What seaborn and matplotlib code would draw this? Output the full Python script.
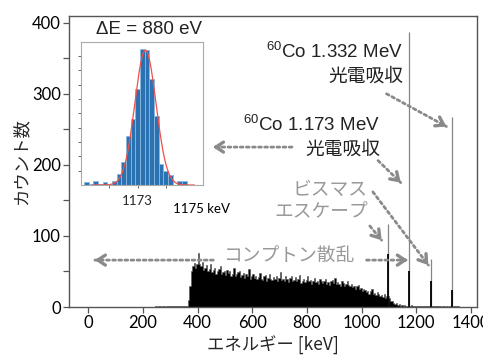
import numpy as np
import pandas as pd
import matplotlib
matplotlib.use('Agg')
import matplotlib.pyplot as plt
import seaborn as sns

sns.set_theme(style='ticks')
plt.rcParams['font.family'] = ['Noto Sans CJK JP', 'DejaVu Sans']

# main spectrum: counts per 5 keV bin, starting at 240 keV
spec_start = 240
spec_step = 5
spec_counts = [
    0, 1, 0, 1, 1, 0, 1, 1, 0, 1, 1, 2, 1, 1, 2, 1, 1, 2, 1, 2, 1, 2, 2, 1,   # 240-355
    2, 10, 30, 50, 58, 62, 55, 60, 76, 61,     # 360-405
    57, 63, 52, 55, 59, 50, 54, 61, 49, 52,    # 410-455
    55, 47, 50, 53, 58, 46, 49, 51, 45, 52,    # 460-505
    48, 50, 44, 47, 55, 43, 46, 49, 51, 42,    # 510-555
    45, 48, 41, 46, 44, 53, 40, 43, 47, 41,    # 560-605
    44, 39, 42, 48, 40, 38, 43, 45, 37, 41,    # 610-655
    46, 40, 38, 42, 39, 44, 36, 41, 49, 38,    # 660-705
    40, 37, 43, 39, 35, 41, 44, 36, 38, 42,    # 710-755
    36, 39, 45, 34, 37, 40, 35, 38, 43, 36,    # 760-805
    38, 33, 36, 41, 35, 37, 32, 39, 36, 34,    # 810-855
    37, 40, 33, 35, 31, 36, 38, 34, 41, 32,    # 860-905
    35, 33, 30, 36, 34, 29, 33, 37, 31, 30,    # 910-955
    32, 28, 30, 26, 29, 31, 25, 27, 23, 26,    # 960-1005
    24, 21, 23, 19, 22, 25, 18, 20, 17, 21,    # 1010-1055
    18, 15, 17, 14, 19, 13, 15, 16, 12, 9,     # 1060-1105
    9, 6, 4, 5, 3, 4, 2, 3, 2, 3,              # 1110-1155
    2, 1, 2, 1, 3, 2, 1, 2, 1, 2,              # 1160-1205
    1, 2, 1, 1, 2, 1, 2, 1, 3, 2,              # 1210-1255
    2, 1, 1, 2, 1, 1, 0, 1, 1, 0,              # 1260-1305
    1, 0, 1, 1, 0, 2, 1, 2, 1, 0,              # 1310-1355
]

# sharp lines (Bi escape 1096/1255, photo peaks 1173/1332)
peak_kev = [1096, 1173, 1255, 1332]
peak_top = [117, 387, 67, 267]
peak_core = [75, 50, 36, 24]

# inset: 1173 keV peak, 0.165 keV bins
inset_start = 1171.10
inset_step = 0.165
inset_counts = [2, 1, 3, 1, 2, 0, 3, 8, 16, 34, 46, 67, 95, 94, 74, 48, 15, 10, 7, 0, 3, 3]
fit_center = 1173.27
fit_fwhm = 0.88
fit_amp = 94

energy = spec_start + spec_step * (np.arange(len(spec_counts)) + 0.5)
edges = [float(e) for e in spec_start + spec_step * np.arange(len(spec_counts) + 1)]
df = pd.DataFrame({'energy': energy, 'count': np.array(spec_counts, float)})

fig = plt.figure(figsize=(4.83, 3.56), dpi=100)
ax = fig.add_axes([0.1429, 0.1376, 0.8440, 0.8174])

sns.histplot(data=df, x='energy', weights='count', bins=edges, element='step', fill=True,
             color='black', alpha=1, edgecolor='#555555', linewidth=0.4, ax=ax)
ax.vlines(peak_kev, 0, peak_top, color='#858585', lw=0.9)
ax.vlines(peak_kev, 0, peak_core, color='black', lw=1.3)

ax.set_xlim(-70.6, 1420.8)
ax.set_ylim(0, 409.4)
ax.set_xticks(np.arange(0, 1401, 200))
ax.set_yticks(np.arange(0, 401, 100))
ax.set_yticks(np.arange(50, 400, 100), minor=True)
ax.tick_params(axis='both', which='both', direction='out', color='#555555', width=0.9)
ax.tick_params(axis='both', which='major', length=4, labelsize=12, pad=2, labelcolor='black')
ax.tick_params(axis='y', which='minor', length=4)
for lab in ax.get_xticklabels() + ax.get_yticklabels():
    lab.set_fontfamily('Lato')
for sp in ax.spines.values():
    sp.set_color('#555555')
    sp.set_linewidth(1.0)
ax.set_xlabel('エネルギー [keV]', fontsize=12.5, labelpad=3)
ax.set_ylabel('カウント数', fontsize=12.5, labelpad=1)

dark = '#222222'
gray = '#999999'
agray = '#8a8a8a'
tfs = 13.5
lat = ['Liberation Sans', 'Noto Sans CJK JP']
co = r'$\mathregular{^{60}}$Co '
ax.text(1151, 359, co + '1.332 MeV', ha='right', va='center', fontsize=tfs, color=dark, family=lat)
ax.text(1151, 325, '光電吸収', ha='right', va='center', fontsize=tfs, color=dark)
ax.text(1067, 256, co + '1.173 MeV', ha='right', va='center', fontsize=tfs, color=dark, family=lat)
ax.text(1067, 222, '光電吸収', ha='right', va='center', fontsize=tfs, color=dark)
ax.text(1023, 165, 'ビスマス', ha='right', va='center', fontsize=tfs, color=gray)
ax.text(1023, 134, 'エスケープ', ha='right', va='center', fontsize=tfs, color=gray)
ax.text(734, 73, 'コンプトン散乱', ha='center', va='center', fontsize=tfs, color=gray)
ax.text(222, 391, 'ΔE = 880 eV', ha='center', va='center', fontsize=tfs, color=dark, family=lat)

arrows = [
    ((1091, 300), (1310, 254)),
    ((1060, 206), (1143, 175)),
    ((1041, 162), (1244, 59)),
    ((1030, 114), (1073, 94)),
    ((1018, 66), (1169, 66)),
    ((457, 66), (24, 66)),
    ((745, 225), (456, 225)),
]
for start, end in arrows:
    ax.annotate('', xy=end, xytext=start,
                arrowprops=dict(arrowstyle='-', linestyle=(0, (1, 1.2)), lw=2.0,
                                color=agray, shrinkA=0, shrinkB=0))
    d = np.array(end, float) - np.array(start, float)
    tail = np.array(end) - d / np.hypot(d[0] * 0.2734, d[1] * 0.711) * 6
    ax.annotate('', xy=end, xytext=tuple(tail),
                arrowprops=dict(arrowstyle='->,head_length=0.45,head_width=0.3', lw=2.4,
                                color=agray, shrinkA=0, shrinkB=0))

# inset
ax_in = fig.add_axes([0.1677, 0.4803, 0.2526, 0.4025])
in_edges = [float(e) for e in inset_start + inset_step * np.arange(len(inset_counts) + 1)]
in_centers = np.array(in_edges[:-1]) + inset_step / 2
dfi = pd.DataFrame({'energy': in_centers, 'count': np.array(inset_counts, float)})
sns.histplot(data=dfi, x='energy', weights='count', bins=in_edges, element='bars',
             color='#2a72b2', alpha=1, edgecolor='#8ab8e0', linewidth=0.6, ax=ax_in)
xf = np.linspace(1171.4, 1175.0, 300)
sig = fit_fwhm / 2.3548
ax_in.plot(xf, fit_amp * np.exp(-0.5 * ((xf - fit_center) / sig) ** 2), color='#f0504a', lw=0.9)
ax_in.set_xlim(1171.0, 1175.3)
ax_in.set_ylim(0, 100)
ax_in.set_xticks([1172, 1173, 1174])
ax_in.set_xticklabels(['', '1173', ''])
ax_in.set_yticks(np.arange(10, 100, 10))
ax_in.set_yticklabels([])
ax_in.set_xlabel('')
ax_in.set_ylabel('')
ax_in.tick_params(axis='both', direction='out', length=2.5, width=0.7, color='#666666',
                  labelsize=9.5, pad=5)
for lab in ax_in.get_xticklabels():
    lab.set_fontfamily('Lato')
ax_in.text(1174.26, -17, '1175 keV', ha='left', va='center', fontsize=9.5,
           family='Lato', color='black')
for sp in ax_in.spines.values():
    sp.set_color('#aaaaaa')
    sp.set_linewidth(0.8)

fig.savefig('out.png', dpi=100)
